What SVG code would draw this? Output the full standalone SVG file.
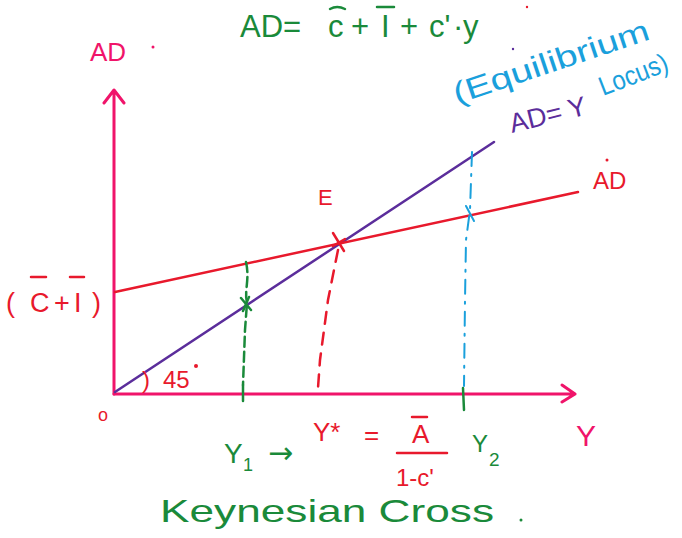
<svg xmlns="http://www.w3.org/2000/svg" width="682" height="538" viewBox="0 0 682 538">
<defs>
<style>
.t{font-family:"Liberation Sans","DejaVu Sans",sans-serif}
.pink{fill:#f0146a}
.red{fill:#e8192c}
.green{fill:#1a8a3a}
.blue{fill:#1aa0dc}
.purple{fill:#5b2d9b}
.ax{stroke:#f0146a;stroke-width:3;fill:none;stroke-linecap:round;stroke-linejoin:round}
.rl{stroke:#e8192c;stroke-width:2.5;fill:none;stroke-linecap:round}
.gl{stroke:#1a8a3a;stroke-width:2.5;fill:none;stroke-linecap:round}
.bl{stroke:#1aa0dc;stroke-width:2;fill:none;stroke-linecap:round}
.pl{stroke:#5b2d9b;stroke-width:2.5;fill:none;stroke-linecap:round}
</style>
</defs>
<rect width="682" height="538" fill="#fff"/>
<g id="axes">
<path class="ax" d="M114,394 V91 M104,103 L114,90 L124,103"/>
<path class="ax" d="M114,394 H575 M562,385 L575,394 L562,402"/>
</g>
<g id="connectors">
<path class="pl" d="M115,392 L494,142"/>
<path class="rl" d="M115,292 L578,192"/>
<path class="gl" stroke-dasharray="10,5" d="M246,262 C250,280 244,290 247,303 L245,330 L243,385"/>
<path class="gl" d="M243,385 V401 M241,298 L251,310 M249,297 L243,311 M463,388 L464,410"/>
<path class="rl" stroke-dasharray="12,9" d="M338,250 L328,300 L320,360 L318,388"/>
<path class="rl" d="M333,233 L344,251 M333,246 L345,239"/>
<path class="bl" stroke-dasharray="14,8,2,8" d="M472,152 L470,210 L466,240 L465,300 L464,386"/>
<path class="bl" d="M466,206 L474,221"/>
</g>
<g id="labels">
<text class="t pink" x="90" y="61" font-size="26">AD</text>
<circle cx="153" cy="47" r="1.5" fill="#f0146a"/>
<text class="t green" y="37" font-size="31"><tspan x="240">AD=</tspan><tspan x="328">c</tspan><tspan x="351">+</tspan><tspan x="381">I</tspan><tspan x="400">+</tspan><tspan x="429">c'</tspan><tspan x="453">·</tspan><tspan x="463">y</tspan></text>
<path class="gl" d="M330,9 Q337,5 345,9 M377,7 H394"/>
<circle cx="527" cy="7" r="1.2" fill="#e8192c"/>
<text class="t blue" x="0" y="0" font-size="30" textLength="205" lengthAdjust="spacingAndGlyphs" transform="translate(457,104) rotate(-18.5)">(Equilibrium</text>
<circle cx="513" cy="49" r="1.2" fill="#5b2d9b"/>
<text class="t purple" x="0" y="0" font-size="27" transform="translate(512,133) rotate(-14)">AD= Y</text>
<text class="t blue" x="0" y="0" font-size="27" textLength="72" lengthAdjust="spacingAndGlyphs" transform="translate(603,96) rotate(-21)">Locus)</text>
<text class="t red" x="593" y="189" font-size="24">AD</text>
<circle cx="607" cy="160" r="1.5" fill="#e8192c"/>
<text class="t red" x="318" y="205" font-size="22">E</text>
<text class="t red" y="312" font-size="27"><tspan x="6">(</tspan><tspan x="30">C</tspan><tspan x="54">+</tspan><tspan x="74">I</tspan><tspan x="92">)</tspan></text>
<path class="rl" d="M31,277 H46 M70,277 H84"/>
<text class="t red" y="388" font-size="24"><tspan x="142">)</tspan><tspan x="163">45</tspan></text>
<circle cx="196" cy="366" r="2" fill="#e8192c"/>
<text class="t red" x="98" y="421" font-size="18">o</text>
<text class="t pink" x="576" y="446" font-size="30">Y</text>
<text class="t green" x="224" y="463" font-size="28">Y</text>
<text class="t green" x="243" y="471" font-size="18">1</text>
<text class="green" x="268" y="463" font-size="30" font-family="'DejaVu Sans',sans-serif">→</text>
<text class="t red" x="313" y="441" font-size="26">Y*</text>
<text class="t red" x="364" y="444" font-size="26">=</text>
<text class="t red" x="412" y="443" font-size="26">A</text>
<path class="rl" d="M412,417 H427 M397,453 H447"/>
<text class="t red" x="396" y="486" font-size="24">1-c'</text>
<text class="t green" x="472" y="452" font-size="24">Y</text>
<text class="t green" x="489" y="466" font-size="19">2</text>
<text class="t green" x="160" y="522" font-size="32" textLength="334" lengthAdjust="spacingAndGlyphs">Keynesian  Cross</text>
<circle cx="521" cy="520" r="1.5" fill="#1a8a3a"/>
</g>
</svg>
